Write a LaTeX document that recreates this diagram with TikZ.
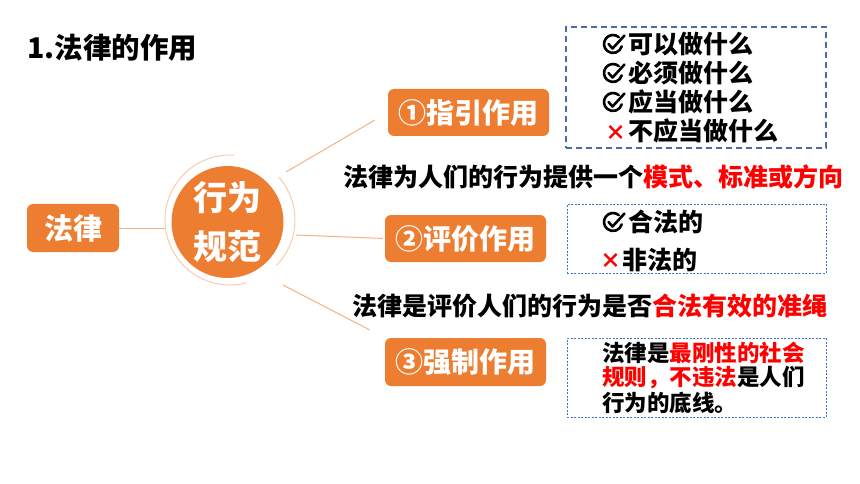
\documentclass[tikz,border=0pt]{standalone}
\usepackage{fontspec}
\setmainfont{Noto Sans CJK SC}
\usetikzlibrary{calc}
\definecolor{org}{HTML}{ED7D31}
\definecolor{lineorg}{HTML}{F4B183}
\definecolor{ringorg}{HTML}{F8CBAD}
\definecolor{dashblue}{HTML}{4A6AA8}
\definecolor{dotblue}{HTML}{4472C4}
\definecolor{myred}{HTML}{FF0000}
\tikzset{
  ckmark/.pic={
    \begin{scope}[yscale=-1]
      \draw[line width=2.6pt, line cap=round, line join=round]
        (50:9) arc[start angle=50, end angle=345, radius=9];
      \draw[line width=2.6pt, line cap=round, line join=round]
        (-4.5,0) -- (-0.5,-4.5) -- (11.5,8.5);
    \end{scope}
  }
}
\begin{document}
\begin{tikzpicture}[x=1pt,y=-1pt,
  obox/.style={fill=org, rounded corners=6pt, text=white,
    font=\fontsize{28}{30}\selectfont\bfseries, inner sep=0pt,
    minimum width=161pt, minimum height=47pt},
  conn/.style={draw=lineorg, line width=1pt},
  txt/.style={inner sep=0pt, anchor=west, font=\fontsize{25}{28}\selectfont\bfseries},
  smalltxt/.style={inner sep=0pt, anchor=west, font=\fontsize{22.5}{25}\selectfont\bfseries},
  dashbox/.style={draw=dashblue, line width=1.4pt, dash pattern=on 6pt off 4pt, inner sep=0pt},
  dotbox/.style={draw=dotblue, line width=0.8pt, dash pattern=on 2pt off 1.5pt, inner sep=0pt},
  xmark/.style={inner sep=0pt, text=myred, font=\fontsize{21}{21}\selectfont\bfseries},
]
\useasboundingbox (0,0) rectangle (860,484);

% title
\node[inner sep=0pt, anchor=west, font=\fontsize{28.5}{30}\selectfont\bfseries] (title) at (27,48) {1.法律的作用};

% central elements
\node[fill=org, rounded corners=6pt, text=white, inner sep=0pt,
      minimum width=92pt, minimum height=48pt,
      font=\fontsize{29}{30}\selectfont\bfseries] (law) at (73,228) {法律};
\node[circle, fill=org, minimum size=112pt, inner sep=0pt, text=white, align=center,
      font=\fontsize{34}{49}\selectfont\bfseries] (norm) at (227.5,222) {行为\\规范};
\node[circle, minimum size=130pt, inner sep=0pt] (ring) at (230,220) {};

% ring arcs
\draw[draw=ringorg, line width=1pt] (230,220) ++(-86:65) arc[start angle=-86, end angle=-285, radius=65];
\draw[draw=ringorg, line width=1pt] (230,220) ++(44:65) arc[start angle=44, end angle=-41, radius=65];

% function boxes
\node[obox] (b1) at (468.5,112.5) {①指引作用};
\node[obox] (b2) at (465.5,238.5) {②评价作用};
\node[obox, minimum height=48pt] (b3) at (465.5,362) {③强制作用};

% connectors
\coordinate (s1) at (286,172);
\coordinate (s2) at (296,235);
\coordinate (s3) at (283,285);
\draw[conn] (law.east) -- (law.east -| ring.west);
\draw[conn, shorten >=15pt] (s1) -- (b1.west);
\draw[conn, shorten >=2pt] (s2) -- (b2.west);
\draw[conn, shorten >=17pt] (s3) -- (b3.north west);

% dashed boxes
\node[dashbox, minimum width=260pt, minimum height=121pt] (d1) at (696,87.5) {};
\node[dotbox, minimum width=259pt, minimum height=69pt] (d2) at (696.5,238.5) {};
\node[dotbox, minimum width=259pt, minimum height=79pt] (d3) at (696.5,377.5) {};

% box 1 contents
\pic at (613,44) {ckmark};
\pic at (613,73) {ckmark};
\pic at (613,102) {ckmark};
\node[txt] (t11) at (628,44) {可以做什么};
\node[txt] (t12) at (628,73) {必须做什么};
\node[txt] (t13) at (628,102) {应当做什么};
\node[xmark] (x1) at (616,133) {×};
\node[txt] (t14) at (628,131) {不应当做什么};

% box 2 contents
\pic at (613,222) {ckmark};
\node[txt] (t21) at (628,222) {合法的};
\node[xmark] (x2) at (611,261) {×};
\node[txt] (t22) at (622,260) {非法的};

% box 3 contents
\node[smalltxt] (t31) at (602,353) {法律是{\color{myred}最刚性的社会}};
\node[smalltxt] (t32) at (602,378) {{\color{myred}规则，不违法}是人们};
\node[smalltxt] (t33) at (602,403) {行为的底线。};

% sentences
\node[txt] (sen1) at (343,177) {法律为人们的行为提供一个{\color{myred}模式、标准或方向}};
\node[txt] (sen2) at (352,306) {法律是评价人们的行为是否{\color{myred}合法有效的准绳}};
\end{tikzpicture}
\end{document}
